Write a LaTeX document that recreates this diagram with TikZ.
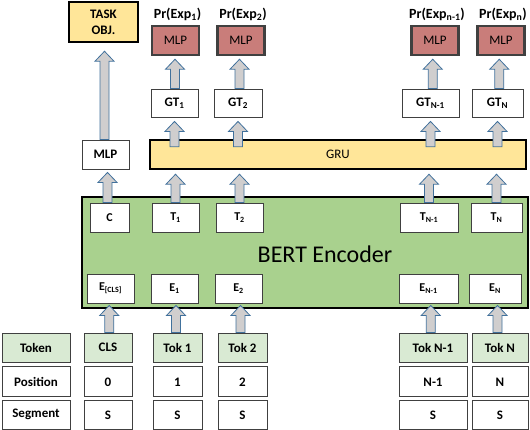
\documentclass[tikz,border=0pt]{standalone}
\usepackage{fontspec}
\setmainfont{Carlito}
\usepackage{tikz}
\usetikzlibrary{positioning,calc}
\definecolor{taskyellow}{HTML}{FFE699}
\definecolor{mlprose}{HTML}{C97D7A}
\definecolor{bertgreen}{HTML}{A9D18E}
\definecolor{tokgreen}{HTML}{D9EAD3}
\definecolor{arrowgray}{HTML}{D0CECE}
\definecolor{arrowblue}{HTML}{41719C}
\definecolor{bk80}{HTML}{404040}
\tikzset{
  plainbox/.style={rectangle, draw=bk80, fill=white, line width=0.9pt,
    minimum height=29pt, inner sep=1pt,
    font=\fontsize{12}{14}\selectfont\bfseries},
  rowbox/.style={plainbox, font=\fontsize{13}{15}\selectfont\bfseries},
  tokbox/.style={rowbox, fill=tokgreen},
  headbox/.style={rectangle, draw=black, fill=#1, line width=2.5pt,
    inner sep=1pt, font=\fontsize{13}{15}\selectfont},
  headbox/.default=taskyellow,
  mlphead/.style={headbox=mlprose, draw=bk80,
    minimum width=47pt, minimum height=29pt},
  problabel/.style={font=\fontsize{14}{16}\selectfont\bfseries, inner sep=0pt},
  blockarrow/.style={draw=arrowblue, fill=arrowgray, line width=0.8pt},
}
% upward block arrow between two points
\newcommand{\blockup}[2]{%
  \draw[blockarrow] let \p1=#1, \p2=#2, \n1={(\x1+\x2)/2} in
    (\n1-4.5pt,\y1) -- (\n1-4.5pt,\y2-10pt) -- (\n1-9.5pt,\y2-10pt) -- (\n1,\y2)
    -- (\n1+9.5pt,\y2-10pt) -- (\n1+4.5pt,\y2-10pt) -- (\n1+4.5pt,\y1) -- cycle;}

\begin{document}
\begin{tikzpicture}[x=1pt, y=-1pt, node distance=4pt]
\useasboundingbox (0,0) rectangle (530,430);

% heads
\node[headbox, minimum width=69pt, minimum height=40pt, align=center,
      font=\fontsize{13}{16}\selectfont\bfseries] (task) at (103.5,22) {TASK\\OBJ.};
\node[mlphead] (mlp1) at (175.5,40.5) {MLP};
\node[mlphead] (mlp2) at (241,40.5) {MLP};
\node[mlphead] (mlpn1) at (435,40.5) {MLP};
\node[mlphead] (mlpn) at (501,40.5) {MLP};
\node[problabel, above=4pt of mlp1, xshift=2pt] (pr1) {Pr(Exp\textsubscript{1})};
\node[problabel, above=4pt of mlp2, xshift=2pt] (pr2) {Pr(Exp\textsubscript{2})};
\node[problabel, above=4pt of mlpn1, xshift=2pt] (prn1) {Pr(Exp\textsubscript{n-1})};
\node[problabel, above=4pt of mlpn, xshift=2pt] (prn) {Pr(Exp\textsubscript{n})};

% GRU outputs
\node[rowbox, minimum width=47pt, minimum height=28pt] (gt1) at (174.5,103) {GT\textsubscript{1}};
\node[rowbox, minimum width=48pt, minimum height=28pt] (gt2) at (238,103) {GT\textsubscript{2}};
\node[rowbox, minimum width=57pt, minimum height=28pt] (gtn1) at (430.5,103) {GT\textsubscript{N-1}};
\node[rowbox, minimum width=51pt, minimum height=28pt] (gtn) at (497.5,103) {GT\textsubscript{N}};
\node[rowbox, minimum width=47pt] (cmlp) at (105.5,154.5) {MLP};
\node[headbox, minimum width=376pt, minimum height=29pt] (gru) at (338,154.5) {GRU};

% encoder
\node[headbox=bertgreen, minimum width=446pt, minimum height=111pt] (bert) at (305,252.5) {};
\node[font=\fontsize{24}{28}\selectfont] (bertlbl) at (325,254) {BERT Encoder};
\node[plainbox, minimum width=39pt] (cbox) at (109.5,217.5) {C};
\node[plainbox, minimum width=47pt] (t1) at (175.5,217.5) {T\textsubscript{1}};
\node[plainbox, minimum width=47pt] (t2) at (239.5,217.5) {T\textsubscript{2}};
\node[plainbox, minimum width=58pt] (tn1) at (429,217.5) {T\textsubscript{N-1}};
\node[plainbox, minimum width=51pt] (tn) at (496.5,217.5) {T\textsubscript{N}};
\node[plainbox, minimum width=47pt] (ecls) at (110.5,288.5) {E\textsubscript{[CLS]}};
\node[plainbox, minimum width=47pt] (e1) at (174.5,288.5) {E\textsubscript{1}};
\node[plainbox, minimum width=47pt] (e2) at (238.5,288.5) {E\textsubscript{2}};
\node[plainbox, minimum width=59pt] (en1) at (428.5,288.5) {E\textsubscript{N-1}};
\node[plainbox, minimum width=52pt] (en) at (495,288.5) {E\textsubscript{N}};

% input rows
\node[tokbox, minimum width=68pt] (tokhdr) at (36,347.5) {Token};
\node[tokbox, minimum width=48pt] (tok0) at (108,347.5) {CLS};
\node[tokbox, minimum width=49pt] (tok1) at (177.5,347.5) {Tok 1};
\node[tokbox, minimum width=49pt] (tok2) at (242.5,347.5) {Tok 2};
\node[tokbox, minimum width=68pt] (tokn1) at (433,347.5) {Tok N-1};
\node[tokbox, minimum width=56pt] (tokn) at (500,347.5) {Tok N};

\node[rowbox, minimum width=68pt, minimum height=30pt, below=of tokhdr] (poshdr) {Position};
\node[rowbox, minimum width=48pt, minimum height=30pt, below=of tok0] (pos0) {0};
\node[rowbox, minimum width=49pt, minimum height=30pt, below=of tok1] (pos1) {1};
\node[rowbox, minimum width=49pt, minimum height=30pt, below=of tok2] (pos2) {2};
\node[rowbox, minimum width=68pt, minimum height=30pt, below=of tokn1] (posn1) {N-1};
\node[rowbox, minimum width=56pt, minimum height=30pt, below=of tokn] (posn) {N};

\node[rowbox, minimum width=68pt, below=2.5pt of poshdr] (seghdr) {Segment};
\node[rowbox, minimum width=48pt, below=2.5pt of pos0] (seg0) {S};
\node[rowbox, minimum width=49pt, below=2.5pt of pos1] (seg1) {S};
\node[rowbox, minimum width=49pt, below=2.5pt of pos2] (seg2) {S};
\node[rowbox, minimum width=68pt, below=2.5pt of posn1] (segn1) {S};
\node[rowbox, minimum width=56pt, below=2.5pt of posn] (segn) {S};

% arrows
\blockup{(tok0.north)}{($(ecls.south)+(0,2)$)}
\blockup{(tok1.north)}{($(e1.south)+(0,2)$)}
\blockup{(tok2.north)}{($(e2.south)+(0,2)$)}
\blockup{(tokn1.north)}{($(en1.south)+(0,2)$)}
\blockup{(tokn.north)}{($(en.south)+(0,2)$)}
\blockup{(cbox.north)}{($(cmlp.south)+(0,3)$)}
\blockup{(t1.north)}{($(gru.south -| t1)+(0,4)$)}
\blockup{(t2.north)}{($(gru.south -| t2)+(0,4)$)}
\blockup{(tn1.north)}{($(gru.south -| tn1)+(0,4)$)}
\blockup{(tn.north)}{($(gru.south -| tn)+(0,4)$)}
\blockup{($(gru.north -| gt1)+(0,8)$)}{($(gt1.south)+(0,4)$)}
\blockup{($(gru.north -| gt2)+(0,8)$)}{($(gt2.south)+(0,4)$)}
\blockup{($(gru.north -| gtn1)+(0,8)$)}{($(gtn1.south)+(0,4)$)}
\blockup{($(gru.north -| gtn)+(0,8)$)}{($(gtn.south)+(0,4)$)}
\blockup{(gt1.north)}{($(mlp1.south)+(0,3)$)}
\blockup{(gt2.north)}{($(mlp2.south)+(0,3)$)}
\blockup{(gtn1.north)}{($(mlpn1.south)+(0,3)$)}
\blockup{(gtn.north)}{($(mlpn.south)+(0,3)$)}
\blockup{(cmlp.north)}{($(task.south)+(0,8)$)}
\end{tikzpicture}
\end{document}
